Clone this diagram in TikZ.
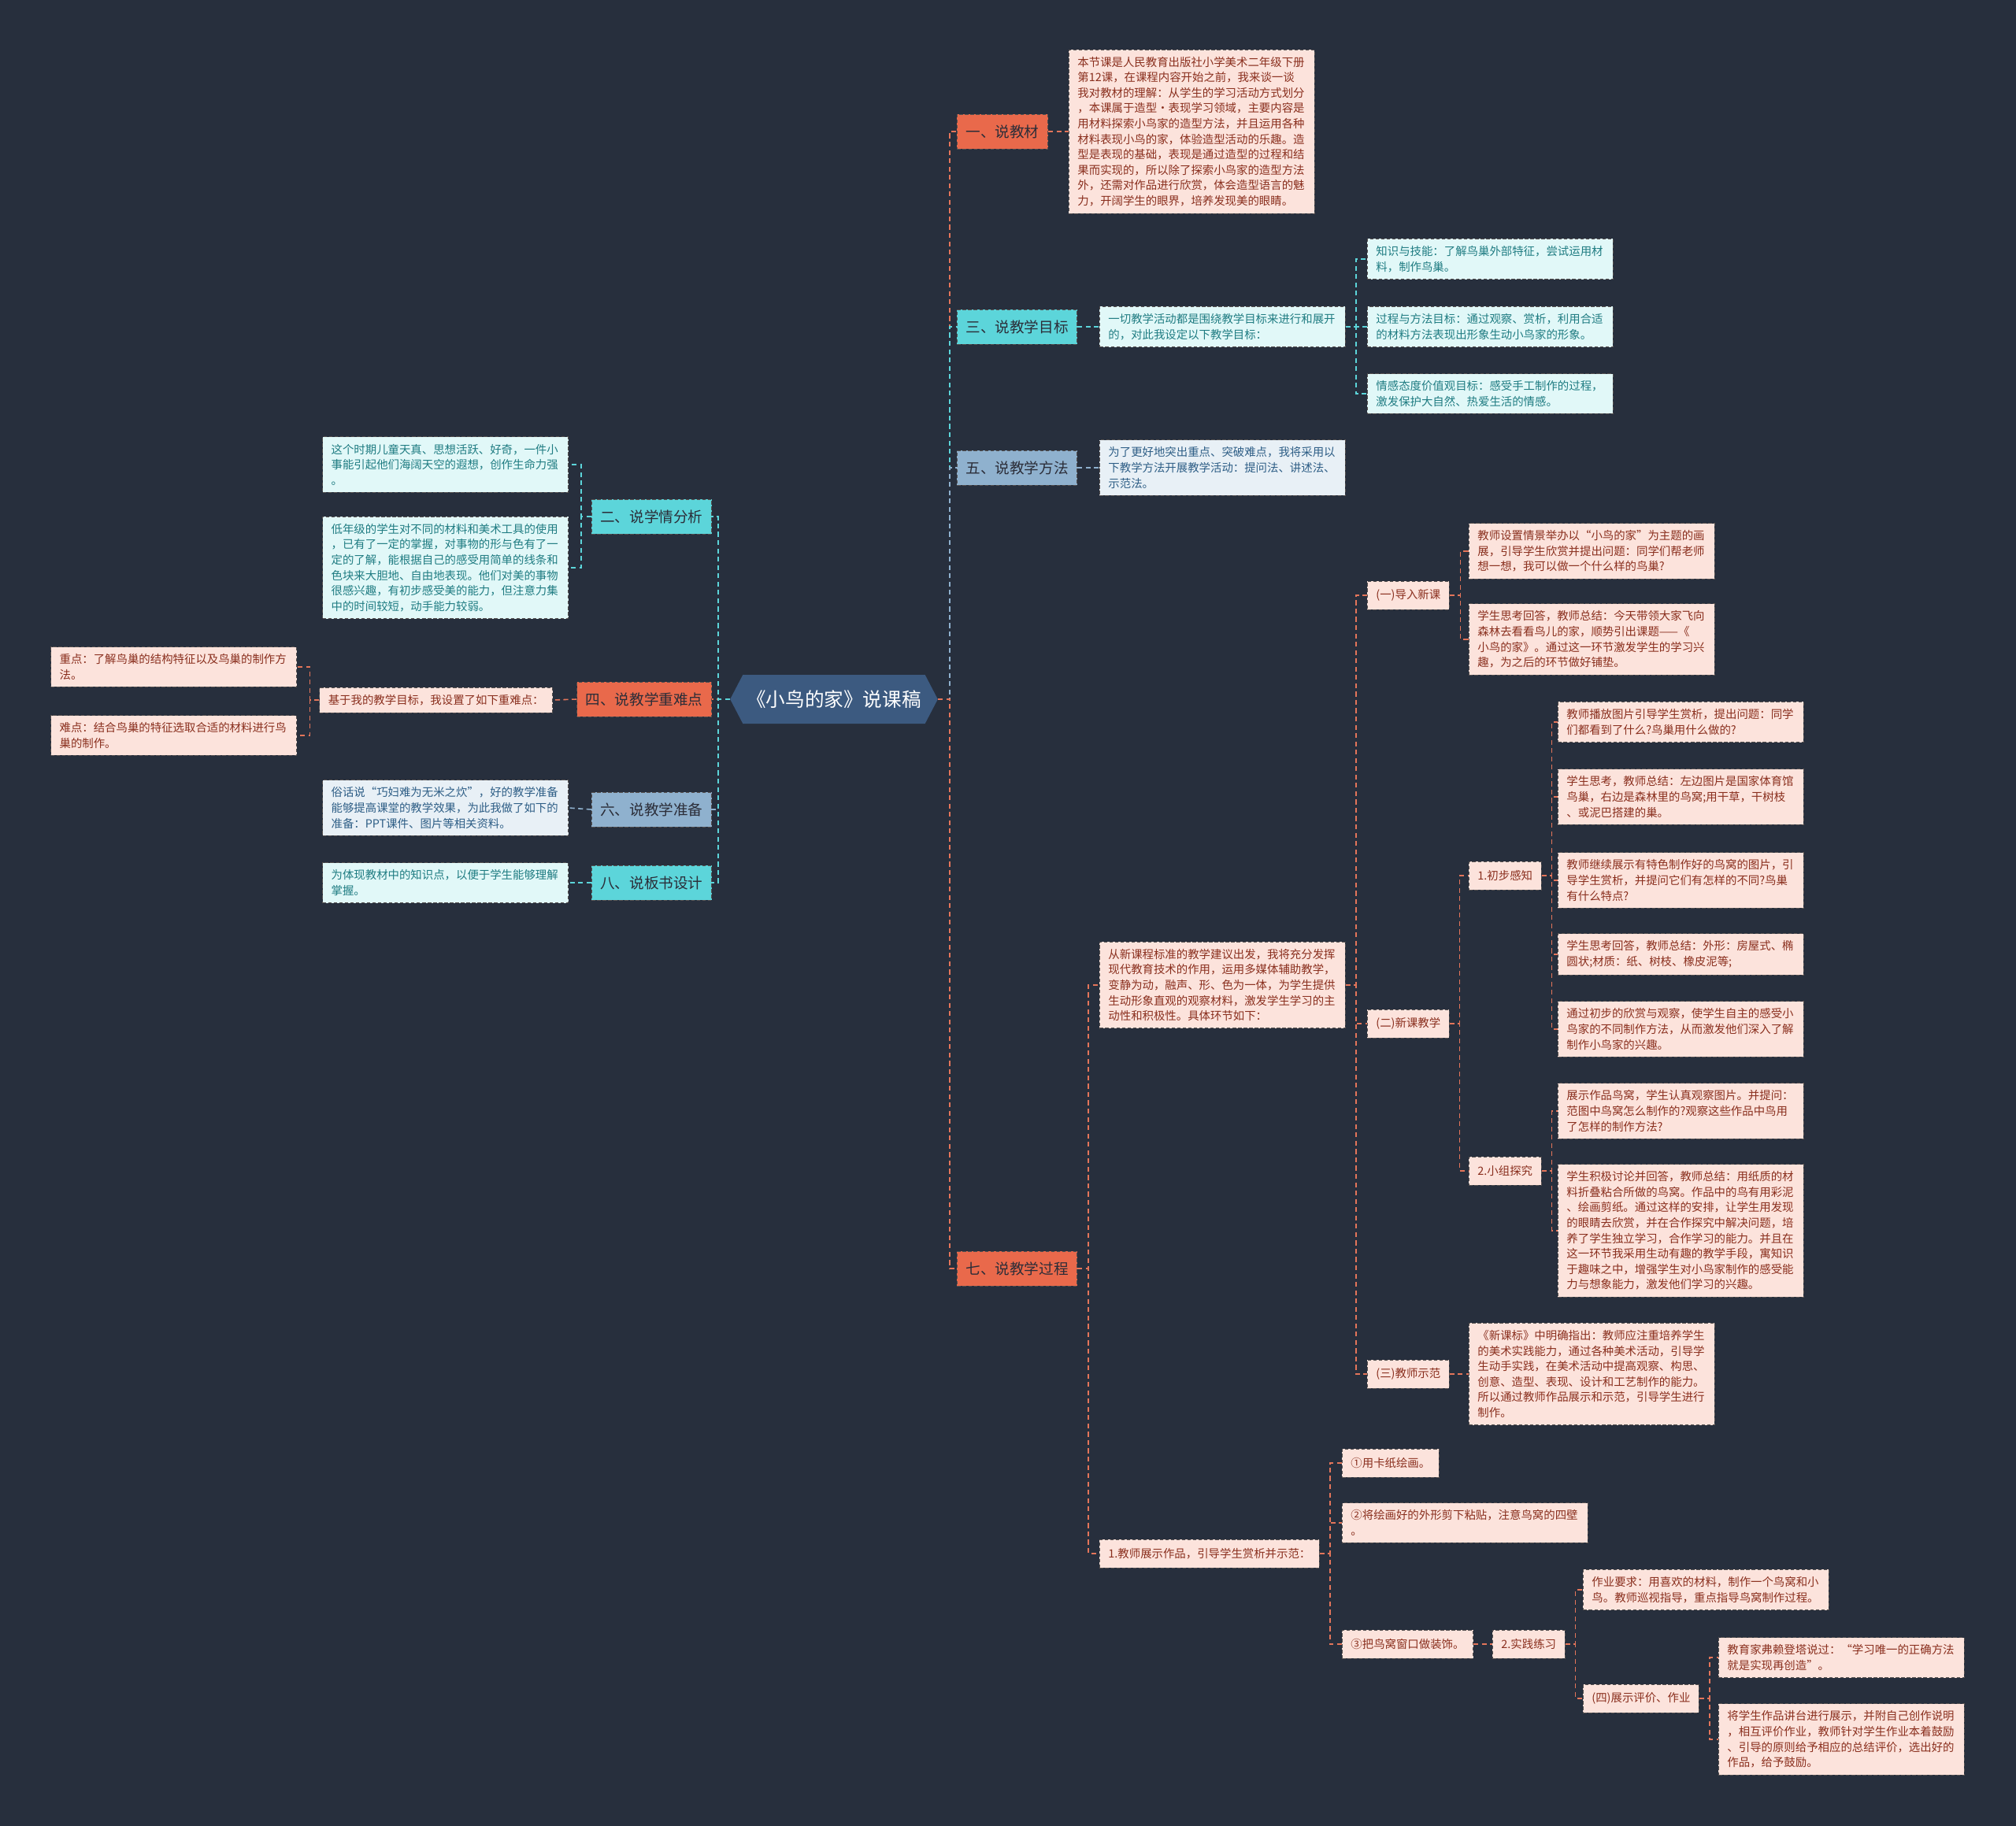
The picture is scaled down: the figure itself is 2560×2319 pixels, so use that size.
\documentclass[tikz,border=0pt]{standalone}
\usepackage{fontspec}
\setmainfont{Noto Sans CJK SC}
\usetikzlibrary{positioning,shapes.symbols}

\definecolor{bgnavy}{HTML}{272F3D}
\definecolor{rootblue}{HTML}{3C5A80}
\definecolor{brorange}{HTML}{E9694B}
\definecolor{brcyan}{HTML}{5CD5DA}
\definecolor{brsteel}{HTML}{8FB1CE}
\definecolor{brtext}{HTML}{2B2D38}
\definecolor{pinkfill}{HTML}{FCE3DC}
\definecolor{pinktext}{HTML}{8A2F1E}
\definecolor{cyanfill}{HTML}{E1F8F8}
\definecolor{cyantext}{HTML}{1F7C82}
\definecolor{steelfill}{HTML}{E8F0F6}
\definecolor{steeltext}{HTML}{2E5E86}
\definecolor{edgegray}{HTML}{55504F}
\definecolor{lineorange}{HTML}{E4755A}

\newcommand{\leaffont}{\fontsize{8.2pt}{11.15pt}\selectfont}
\newcommand{\branchfont}{\fontsize{10.6pt}{13pt}\selectfont}
\newcommand{\rootfont}{\fontsize{14pt}{17pt}\selectfont}

\begin{document}
\begin{tikzpicture}[
    x=0.02cm, y=-0.02cm,
    root/.style={signal, signal to=east and west, signal pointer angle=125, fill=rootblue, text=white, font=\rootfont, minimum width=4.66cm, minimum height=1.24cm, inner xsep=0.1cm},
    branch/.style={rectangle, draw=edgegray, dash pattern=on 2.5pt off 1.5pt, line width=0.5pt, text=brtext, font=\branchfont, minimum height=0.88cm, inner xsep=0.22cm},
    brorange/.style={branch, fill=brorange},
    brcyan/.style={branch, fill=brcyan},
    brsteel/.style={branch, fill=brsteel},
    leaf/.style={rectangle, draw=edgegray, dash pattern=on 2.5pt off 1.5pt, line width=0.5pt, font=\leaffont, text width=5.8cm, align=left, inner xsep=0.22cm, inner ysep=0.18cm},
    leafpink/.style={leaf, fill=pinkfill, text=pinktext},
    leafcyan/.style={leaf, fill=cyanfill, text=cyantext},
    leafsteel/.style={leaf, fill=steelfill, text=steeltext},
    tagpink/.style={rectangle, draw=edgegray, dash pattern=on 2.5pt off 1.5pt, line width=0.5pt, font=\leaffont, fill=pinkfill, text=pinktext, inner xsep=0.22cm, minimum height=0.72cm},
    link/.style={dash pattern=on 3.5pt off 2.5pt, line width=0.9pt},
    linkorange/.style={link, draw=lineorange},
    linkcyan/.style={link, draw=brcyan},
    linksteel/.style={link, draw=brsteel},
]

\useasboundingbox (0,0) rectangle (2560,2319);
\fill[bgnavy] (0,0) rectangle (2560,2319);

% Centre
\node[root] (root) at (1059,888) {《小鸟的家》说课稿};

% Right branches
\node[brorange, anchor=west] (one) at (1215,167) {一、说教材};
\node[brcyan, anchor=west] (three) at (1215,415) {三、说教学目标};
\node[brsteel, anchor=west] (five) at (1215,594) {五、说教学方法};
\node[brorange, anchor=west] (seven) at (1215,1611) {七、说教学过程};

% Left branches
\node[brcyan, anchor=east] (two) at (904,656) {二、说学情分析};
\node[brorange, anchor=east] (four) at (904,888) {四、说教学重难点};
\node[brsteel, anchor=east] (six) at (904,1028) {六、说教学准备};
\node[brcyan, anchor=east] (eight) at (904,1121) {八、说板书设计};

% 一
\node[leafpink, anchor=west] (onetext) at (1357,167) {本节课是人民教育出版社小学美术二年级下册\\第12课，在课程内容开始之前，我来谈一谈\\我对教材的理解：从学生的学习活动方式划分\\，本课属于造型·表现学习领域，主要内容是\\用材料探索小鸟家的造型方法，并且运用各种\\材料表现小鸟的家，体验造型活动的乐趣。造\\型是表现的基础，表现是通过造型的过程和结\\果而实现的，所以除了探索小鸟家的造型方法\\外，还需对作品进行欣赏，体会造型语言的魅\\力，开阔学生的眼界，培养发现美的眼睛。};

% 三
\node[leafcyan, anchor=west] (threetext) at (1396,415) {一切教学活动都是围绕教学目标来进行和展开\\的，对此我设定以下教学目标：};
\node[leafcyan, anchor=west] (goalA) at (1736,329) {知识与技能：了解鸟巢外部特征，尝试运用材\\料，制作鸟巢。};
\node[leafcyan, anchor=west] (goalB) at (1736,415) {过程与方法目标：通过观察、赏析，利用合适\\的材料方法表现出形象生动小鸟家的形象。};
\node[leafcyan, anchor=west] (goalC) at (1736,500) {情感态度价值观目标：感受手工制作的过程，\\激发保护大自然、热爱生活的情感。};

% 五
\node[leafsteel, anchor=west] (fivetext) at (1396,594) {为了更好地突出重点、突破难点，我将采用以\\下教学方法开展教学活动：提问法、讲述法、\\示范法。};

% 七
\node[leafpink, anchor=west] (seventext) at (1396,1251) {从新课程标准的教学建议出发，我将充分发挥\\现代教育技术的作用，运用多媒体辅助教学，\\变静为动，融声、形、色为一体，为学生提供\\生动形象直观的观察材料，激发学生学习的主\\动性和积极性。具体环节如下：};

\node[tagpink, anchor=west] (intro) at (1736,756) {(一)导入新课};
\node[leafpink, anchor=west] (introA) at (1865,700) {教师设置情景举办以“小鸟的家”为主题的画\\展，引导学生欣赏并提出问题：同学们帮老师\\想一想，我可以做一个什么样的鸟巢?};
\node[leafpink, anchor=west] (introB) at (1865,812) {学生思考回答，教师总结：今天带领大家飞向\\森林去看看鸟儿的家，顺势引出课题——《\\小鸟的家》。通过这一环节激发学生的学习兴\\趣，为之后的环节做好铺垫。};

\node[tagpink, anchor=west] (newlesson) at (1736,1300) {(二)新课教学};
\node[tagpink, anchor=west] (percept) at (1865,1112) {1.初步感知};
\node[leafpink, anchor=west] (perA) at (1978,917) {教师播放图片引导学生赏析，提出问题：同学\\们都看到了什么?鸟巢用什么做的?};
\node[leafpink, anchor=west] (perB) at (1978,1012) {学生思考，教师总结：左边图片是国家体育馆\\鸟巢，右边是森林里的鸟窝;用干草，干树枝\\、或泥巴搭建的巢。};
\node[leafpink, anchor=west] (perC) at (1978,1118) {教师继续展示有特色制作好的鸟窝的图片，引\\导学生赏析，并提问它们有怎样的不同?鸟巢\\有什么特点?};
\node[leafpink, anchor=west] (perD) at (1978,1212) {学生思考回答，教师总结：外形：房屋式、椭\\圆状;材质：纸、树枝、橡皮泥等;};
\node[leafpink, anchor=west] (perE) at (1978,1307) {通过初步的欣赏与观察，使学生自主的感受小\\鸟家的不同制作方法，从而激发他们深入了解\\制作小鸟家的兴趣。};
\node[tagpink, anchor=west] (group) at (1865,1487) {2.小组探究};
\node[leafpink, anchor=west] (grpA) at (1978,1411) {展示作品鸟窝，学生认真观察图片。并提问：\\范图中鸟窝怎么制作的?观察这些作品中鸟用\\了怎样的制作方法?};
\node[leafpink, anchor=west] (grpB) at (1978,1563) {学生积极讨论并回答，教师总结：用纸质的材\\料折叠粘合所做的鸟窝。作品中的鸟有用彩泥\\、绘画剪纸。通过这样的安排，让学生用发现\\的眼睛去欣赏，并在合作探究中解决问题，培\\养了学生独立学习，合作学习的能力。并且在\\这一环节我采用生动有趣的教学手段，寓知识\\于趣味之中，增强学生对小鸟家制作的感受能\\力与想象能力，激发他们学习的兴趣。};

\node[tagpink, anchor=west] (demo) at (1736,1745) {(三)教师示范};
\node[leafpink, anchor=west] (demotext) at (1865,1745) {《新课标》中明确指出：教师应注重培养学生\\的美术实践能力，通过各种美术活动，引导学\\生动手实践，在美术活动中提高观察、构思、\\创意、造型、表现、设计和工艺制作的能力。\\所以通过教师作品展示和示范，引导学生进行\\制作。};

\node[tagpink, anchor=west] (show) at (1396,1973) {1.教师展示作品，引导学生赏析并示范：};
\node[tagpink, anchor=west] (stepA) at (1704,1858) {①用卡纸绘画。};
\node[leafpink, anchor=west] (stepB) at (1704,1934) {②将绘画好的外形剪下粘贴，注意鸟窝的四壁\\。};
\node[tagpink, anchor=west] (stepC) at (1704,2088) {③把鸟窝窗口做装饰。};
\node[tagpink, anchor=west] (practice) at (1895,2088) {2.实践练习};
\node[leafpink, anchor=west] (task) at (2010,2019) {作业要求：用喜欢的材料，制作一个鸟窝和小\\鸟。教师巡视指导，重点指导鸟窝制作过程。};
\node[tagpink, anchor=west] (review) at (2010,2157) {(四)展示评价、作业};
\node[leafpink, anchor=west] (revA) at (2182,2105) {教育家弗赖登塔说过：“学习唯一的正确方法\\就是实现再创造”。};
\node[leafpink, anchor=west] (revB) at (2182,2209) {将学生作品讲台进行展示，并附自己创作说明\\，相互评价作业，教师针对学生作业本着鼓励\\、引导的原则给予相应的总结评价，选出好的\\作品，给予鼓励。};

% 二
\node[leafcyan, anchor=east] (twoA) at (722,590) {这个时期儿童天真、思想活跃、好奇，一件小\\事能引起他们海阔天空的遐想，创作生命力强\\。};
\node[leafcyan, anchor=east] (twoB) at (722,721) {低年级的学生对不同的材料和美术工具的使用\\，已有了一定的掌握，对事物的形与色有了一\\定的了解，能根据自己的感受用简单的线条和\\色块来大胆地、自由地表现。他们对美的事物\\很感兴趣，有初步感受美的能力，但注意力集\\中的时间较短，动手能力较弱。};

% 四
\node[tagpink, anchor=east, minimum height=0.64cm] (fourtext) at (702,889) {基于我的教学目标，我设置了如下重难点：};
\node[leafpink, anchor=east] (keyA) at (377,847) {重点：了解鸟巢的结构特征以及鸟巢的制作方\\法。};
\node[leafpink, anchor=east] (keyB) at (377,934) {难点：结合鸟巢的特征选取合适的材料进行鸟\\巢的制作。};

% 六, 八
\node[leafsteel, anchor=east] (sixtext) at (722,1026) {俗话说“巧妇难为无米之炊”，好的教学准备\\能够提高课堂的教学效果，为此我做了如下的\\准备：PPT课件、图片等相关资料。};
\node[leafcyan, anchor=east] (eighttext) at (722,1121) {为体现教材中的知识点，以便于学生能够理解\\掌握。};

% Links from the centre
\draw[linkorange] (root.east) -- ++(15,0) |- (one.west);
\draw[linkcyan] (root.east) -- ++(15,0) |- (three.west);
\draw[linksteel] (root.east) -- ++(15,0) |- (five.west);
\draw[linkorange] (root.east) -- ++(15,0) |- (seven.west);
\draw[linkcyan] (root.west) -- ++(-15,0) |- (two.east);
\draw[linkorange] (root.west) -- (four.east);
\draw[linksteel] (root.west) -- ++(-15,0) |- (six.east);
\draw[linkcyan] (root.west) -- ++(-15,0) |- (eight.east);

% Right side links
\draw[linkorange] (one.east) -- (onetext.west);
\draw[linkcyan] (three.east) -- (threetext.west);
\draw[linkcyan] (threetext.east) -- ++(13,0) |- (goalA.west);
\draw[linkcyan] (threetext.east) -- (goalB.west);
\draw[linkcyan] (threetext.east) -- ++(13,0) |- (goalC.west);
\draw[linksteel] (five.east) -- (fivetext.west);

\draw[linkorange] (seven.east) -- ++(14,0) |- (seventext.west);
\draw[linkorange] (seven.east) -- ++(14,0) |- (show.west);
\draw[linkorange] (seventext.east) -- ++(13,0) |- (intro.west);
\draw[linkorange] (seventext.east) -- ++(13,0) |- (newlesson.west);
\draw[linkorange] (seventext.east) -- ++(13,0) |- (demo.west);
\draw[linkorange] (intro.east) -- ++(14,0) |- (introA.west);
\draw[linkorange] (intro.east) -- ++(14,0) |- (introB.west);
\draw[linkorange] (newlesson.east) -- ++(13,0) |- (percept.west);
\draw[linkorange] (newlesson.east) -- ++(13,0) |- (group.west);
\foreach \leafname in {perA,perB,perC,perD,perE}
  \draw[linkorange] (percept.east) -- ++(13,0) |- (\leafname.west);
\draw[linkorange] (group.east) -- ++(13,0) |- (grpA.west);
\draw[linkorange] (group.east) -- ++(13,0) |- (grpB.west);
\draw[linkorange] (demo.east) -- (demotext.west);
\draw[linkorange] (show.east) -- ++(13,0) |- (stepA.west);
\draw[linkorange] (show.east) -- ++(13,0) |- (stepB.west);
\draw[linkorange] (show.east) -- ++(13,0) |- (stepC.west);
\draw[linkorange] (stepC.east) -- (practice.west);
\draw[linkorange] (practice.east) -- ++(13,0) |- (task.west);
\draw[linkorange] (practice.east) -- ++(13,0) |- (review.west);
\draw[linkorange] (review.east) -- ++(13,0) |- (revA.west);
\draw[linkorange] (review.east) -- ++(13,0) |- (revB.west);

% Left side links
\draw[linkcyan] (two.west) -- ++(-13,0) |- (twoA.east);
\draw[linkcyan] (two.west) -- ++(-13,0) |- (twoB.east);
\draw[linkorange] (four.west) -- (fourtext.east);
\draw[linkorange] (fourtext.west) -- ++(-12,0) |- (keyA.east);
\draw[linkorange] (fourtext.west) -- ++(-12,0) |- (keyB.east);
\draw[linksteel] (six.west) -- (sixtext.east);
\draw[linkcyan] (eight.west) -- (eighttext.east);

\end{tikzpicture}
\end{document}
